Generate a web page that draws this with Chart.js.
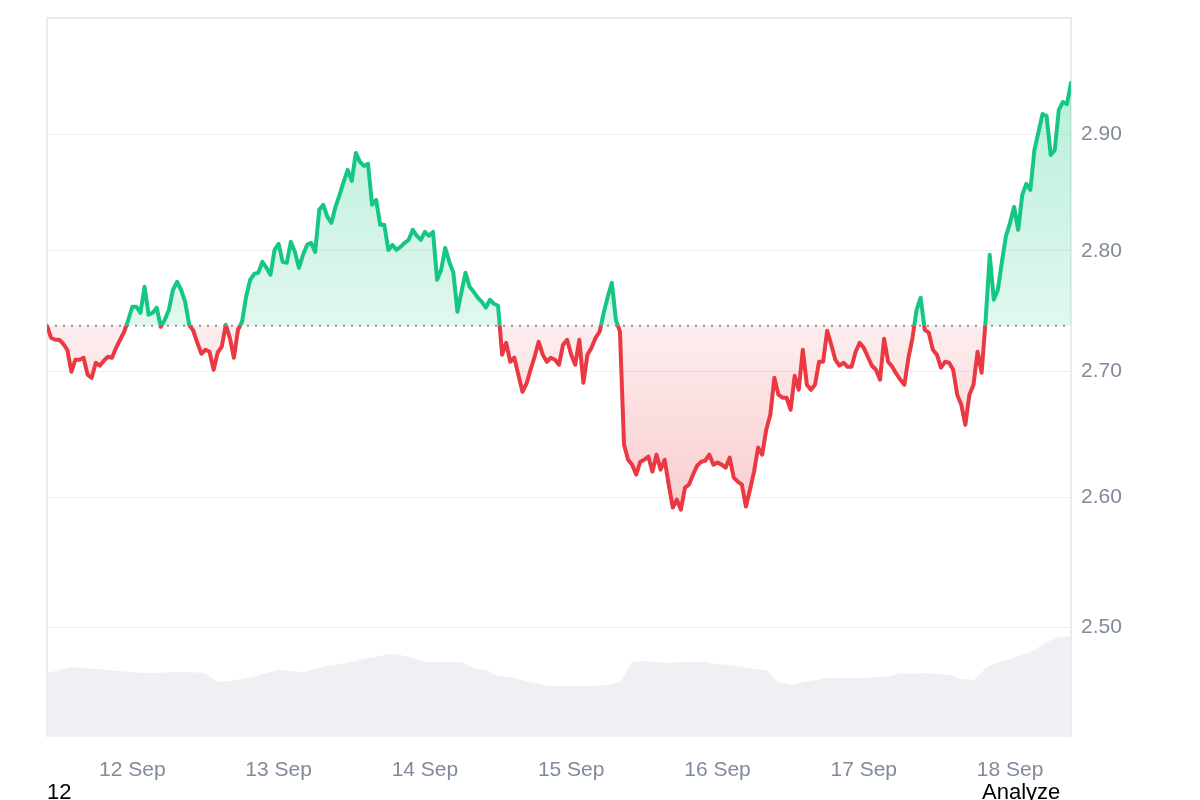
<!DOCTYPE html>
<html>
<head>
<meta charset="utf-8">
<title>Price chart</title>
<script src="https://cdn.jsdelivr.net/npm/chart.js@4.4.1/dist/chart.umd.min.js"></script>
<style>
  html, body { margin: 0; padding: 0; background: #fff; overflow: hidden; }
  #wrap { position: relative; width: 1200px; height: 800px; }
  .note { position: absolute; top: 781px; font: 22px/22px "Liberation Sans", Arial, sans-serif; color: #000; }
</style>
</head>
<body>
<div id="wrap">
  <canvas id="chart"></canvas>
  <div class="note" style="left:47px">12</div>
  <div class="note" style="left:982px">Analyze</div>
</div>
<script>
// 7 days of prices, one every 40 minutes, starting 11 Sep 10:00 (x in hours)
var priceStep = 40 / 60;
var prices = [
    2.7375, 2.7276, 2.7260, 2.7260, 2.7227, 2.7178, 2.6999, 2.7097, 2.7097, 2.7113,
    2.6975, 2.6950, 2.7072, 2.7048, 2.7089, 2.7121, 2.7113, 2.7194, 2.7260, 2.7326,
    2.7424, 2.7532, 2.7532, 2.7482, 2.7698, 2.7466, 2.7482, 2.7524, 2.7367, 2.7424,
    2.7507, 2.7673, 2.7739, 2.7673, 2.7573, 2.7383, 2.7334, 2.7235, 2.7146, 2.7178,
    2.7162, 2.7015, 2.7154, 2.7203, 2.7383, 2.7276, 2.7113, 2.7342, 2.7408, 2.7615,
    2.7756, 2.7806, 2.7815, 2.7906, 2.7856, 2.7798, 2.8007, 2.8058, 2.7906, 2.7898,
    2.8075, 2.7990, 2.7856, 2.7965, 2.8049, 2.8066, 2.7990, 2.8346, 2.8389, 2.8287,
    2.8236, 2.8372, 2.8474, 2.8586, 2.8689, 2.8594, 2.8836, 2.8758, 2.8723, 2.8741,
    2.8389, 2.8431, 2.8219, 2.8219, 2.8007, 2.8049, 2.8007, 2.8032, 2.8066, 2.8092,
    2.8176, 2.8126, 2.8092, 2.8159, 2.8126, 2.8159, 2.7756, 2.7840, 2.8024, 2.7906,
    2.7815, 2.7490, 2.7656, 2.7815, 2.7698, 2.7656, 2.7607, 2.7573, 2.7524, 2.7590,
    2.7557, 2.7540, 2.7138, 2.7235, 2.7080, 2.7113, 2.6975, 2.6837, 2.6902, 2.7015,
    2.7121, 2.7243, 2.7138, 2.7080, 2.7113, 2.7097, 2.7056, 2.7219, 2.7260, 2.7138,
    2.7056, 2.7260, 2.6910, 2.7138, 2.7194, 2.7276, 2.7326, 2.7482, 2.7615, 2.7731,
    2.7424, 2.7326, 2.6414, 2.6294, 2.6255, 2.6177, 2.6278, 2.6294, 2.6318, 2.6200,
    2.6334, 2.6216, 2.6294, 2.6098, 2.5918, 2.5980, 2.5902, 2.6074, 2.6098, 2.6177,
    2.6247, 2.6278, 2.6286, 2.6334, 2.6255, 2.6271, 2.6255, 2.6231, 2.6310, 2.6153,
    2.6121, 2.6098, 2.5926, 2.6058, 2.6200, 2.6390, 2.6334, 2.6532, 2.6652, 2.6950,
    2.6813, 2.6789, 2.6789, 2.6692, 2.6966, 2.6853, 2.7178, 2.6894, 2.6853, 2.6894,
    2.7080, 2.7080, 2.7334, 2.7219, 2.7097, 2.7048, 2.7072, 2.7040, 2.7040, 2.7162,
    2.7235, 2.7194, 2.7121, 2.7048, 2.7015, 2.6934, 2.7268, 2.7080, 2.7040, 2.6983,
    2.6934, 2.6894, 2.7113, 2.7276, 2.7507, 2.7607, 2.7342, 2.7318, 2.7178, 2.7138,
    2.7032, 2.7080, 2.7072, 2.7015, 2.6813, 2.6732, 2.6572, 2.6813, 2.6894, 2.7162,
    2.6991, 2.7424, 2.7965, 2.7590, 2.7673, 2.7906, 2.8126, 2.8236, 2.8372, 2.8176,
    2.8474, 2.8569, 2.8517, 2.8862, 2.9018, 2.9176, 2.9158, 2.8818, 2.8862, 2.9211,
    2.9281, 2.9263, 2.9449
];

// 24h volume (millions), one value every 2 hours
var volumeStep = 2;
var volumes = [
    160, 168, 175, 172, 170, 168, 165, 162, 160, 160,
    162, 162, 162, 160, 138, 140, 145, 150, 160, 168,
    165, 162, 170, 178, 182, 188, 195, 200, 208, 205,
    198, 188, 188, 188, 188, 172, 168, 152, 150, 142,
    135, 128, 128, 128, 128, 128, 130, 138, 188, 190,
    188, 185, 188, 188, 188, 182, 180, 175, 170, 168,
    138, 130, 138, 142, 148, 148, 148, 148, 150, 152,
    160, 158, 160, 158, 155, 145, 142, 172, 188, 195,
    205, 218, 238, 250, 252
];

var dayTicks = [14, 38, 62, 86, 110, 134, 158];
var dayLabels = ['12 Sep', '13 Sep', '14 Sep', '15 Sep', '16 Sep', '17 Sep', '18 Sep'];
var priceTicks = [2.5, 2.6, 2.7, 2.8, 2.9];
var baseline = prices[0];

var GREEN = '#16c784';
var RED = '#ea3943';

Chart.defaults.font.family = '"Liberation Sans", Arial, sans-serif';

function baseFraction(chart) {
    var a = chart.chartArea;
    var yb = chart.scales.y.getPixelForValue(baseline);
    return Math.min(1, Math.max(0, (yb - a.top) / (a.bottom - a.top)));
}

// line: green above the opening price, red below
function lineColor(ctx) {
    var chart = ctx.chart;
    var a = chart.chartArea;
    if (!a) return GREEN;
    var f = baseFraction(chart);
    var g = chart.ctx.createLinearGradient(0, a.top, 0, a.bottom);
    g.addColorStop(0, GREEN);
    g.addColorStop(f, GREEN);
    g.addColorStop(f, RED);
    g.addColorStop(1, RED);
    return g;
}

function areaColor(ctx) {
    var chart = ctx.chart;
    var a = chart.chartArea;
    if (!a) return 'rgba(22,199,132,0.2)';
    var f = baseFraction(chart);
    var y2 = chart.scales.y.getPixelForValue(2.59);
    var f2 = Math.min(1, Math.max(f, (y2 - a.top) / (a.bottom - a.top)));
    var g = chart.ctx.createLinearGradient(0, a.top, 0, a.bottom);
    g.addColorStop(0, 'rgba(22,199,132,0.34)');
    g.addColorStop(f, 'rgba(22,199,132,0.13)');
    g.addColorStop(f, 'rgba(234,57,67,0.09)');
    g.addColorStop(f2, 'rgba(234,57,67,0.25)');
    g.addColorStop(1, 'rgba(234,57,67,0.3)');
    return g;
}

var framePlugin = {
    id: 'frame',
    beforeDraw: function(chart) {
        var a = chart.chartArea, c = chart.ctx;
        c.save();
        c.strokeStyle = '#ebebeb';
        c.lineWidth = 2;
        c.beginPath();
        c.moveTo(a.left, a.bottom);
        c.lineTo(a.left, a.top);
        c.lineTo(a.right, a.top);
        c.lineTo(a.right, a.bottom);
        c.stroke();
        c.restore();
    }
};

var priceData = prices.map(function(p, i) { return { x: i * priceStep, y: p }; });
var volumeData = volumes.map(function(v, i) { return { x: i * volumeStep, y: v }; });
var lastX = (prices.length - 1) * priceStep;

var config = {
    type: 'line',
    data: {
        datasets: [{
            label: 'Price',
            data: priceData,
            yAxisID: 'y',
            borderColor: lineColor,
            backgroundColor: areaColor,
            borderWidth: 4,
            borderJoinStyle: 'round',
            borderCapStyle: 'round',
            pointRadius: 0,
            tension: 0,
            fill: { target: { value: baseline } },
            order: 0
        }, {
            label: 'Open',
            data: [{ x: 0, y: baseline }, { x: lastX, y: baseline }],
            yAxisID: 'y',
            borderColor: '#8c9097',
            borderWidth: 2,
            borderDash: [2, 6],
            pointRadius: 0,
            fill: false,
            order: 1
        }, {
            label: 'Volume',
            data: volumeData,
            yAxisID: 'yv',
            borderWidth: 0,
            backgroundColor: '#eef0f3',
            pointRadius: 0,
            fill: 'start',
            order: 2
        }]
    },
    options: {
        responsive: true,
        maintainAspectRatio: false,
        animation: false,
        layout: { padding: { left: 47, top: 18, right: 0, bottom: 0 } },
        plugins: {
            legend: { display: false },
            tooltip: { enabled: false },
            filler: { drawTime: 'beforeDatasetsDraw' }
        },
        scales: {
            x: {
                type: 'linear',
                min: 0,
                max: lastX,
                bounds: 'data',
                grid: { display: false, drawTicks: false },
                border: { display: false },
                afterBuildTicks: function(s) {
                    s.ticks = dayTicks.map(function(v) { return { value: v }; });
                },
                afterFit: function(s) {
                    s.height = 63;
                    s.paddingLeft = 0;
                    s.paddingRight = 0;
                },
                ticks: {
                    color: '#808a9d',
                    font: { size: 21 },
                    padding: 21,
                    maxRotation: 0,
                    autoSkip: false,
                    callback: function(v) { return dayLabels[dayTicks.indexOf(v)]; }
                }
            },
            y: {
                type: 'logarithmic',
                position: 'right',
                min: 2.419,
                max: 3.003,
                bounds: 'data',
                grid: { color: '#eeeff1', drawTicks: false },
                border: { display: false },
                afterBuildTicks: function(s) {
                    s.ticks = priceTicks.map(function(v) { return { value: v }; });
                },
                afterFit: function(s) {
                    s.width = 129;
                    s.paddingTop = 0;
                    s.paddingBottom = 0;
                },
                ticks: {
                    color: '#808a9d',
                    font: { size: 21 },
                    padding: 10,
                    callback: function(v) { return Number(v).toFixed(2); }
                }
            },
            yv: {
                type: 'linear',
                display: false,
                min: 0,
                max: 1800
            }
        }
    },
    plugins: [framePlugin]
};

window.onload = function() {
    var ctx = document.getElementById('chart').getContext('2d');
    window.priceChart = new Chart(ctx, config);
};
</script>
</body>
</html>
